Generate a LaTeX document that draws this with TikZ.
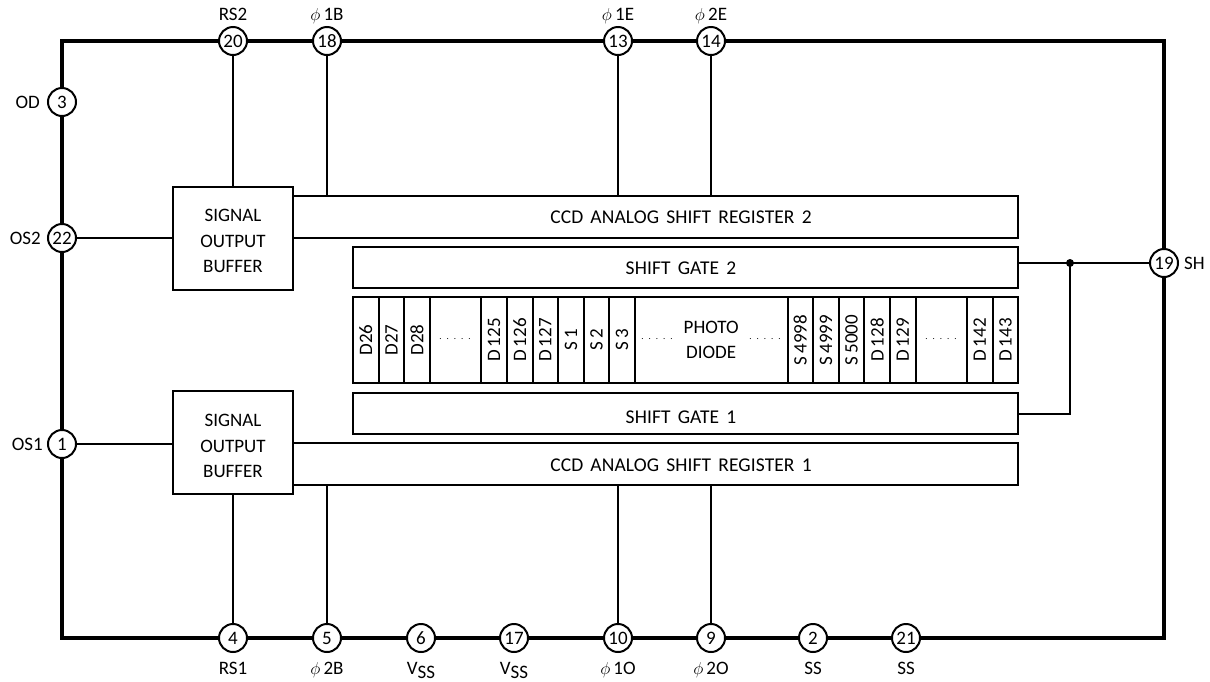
\documentclass[tikz,border=0pt]{standalone}
\usepackage{fontspec}
\setmainfont{Carlito}
\newfontfamily\widefont{Carlito}[WordSpace=1.6, LetterSpace=0.5]
\usepackage{tikz}
\usetikzlibrary{positioning}

\newcommand{\rundots}{.\hspace{5pt}.\hspace{5pt}.\hspace{5pt}.\hspace{5pt}.}

\begin{document}
\begin{tikzpicture}[
    x=1pt, y=-1pt,
    font=\fontsize{19}{25.5}\selectfont,
    wire/.style={line width=2pt},
    box/.style={
      draw,
      line width=2pt,
      align=center,
      inner sep=0pt,
      outer sep=0pt,
      fill=white
    },
    frame/.style={
      draw,
      line width=4pt,
      minimum width=1102pt,
      minimum height=597pt,
      inner sep=0pt
    },
    buffer/.style={box, minimum width=120pt, minimum height=103pt},
    register/.style={box, minimum width=725pt, minimum height=42pt},
    gate/.style={box, minimum width=665pt, minimum height=41pt},
    cell/.style={box, minimum width=25.6pt, minimum height=86pt},
    gap/.style={box, minimum width=51.5pt, minimum height=86pt},
    pin/.style={
      circle,
      draw,
      line width=2pt,
      fill=white,
      minimum size=28pt,
      inner sep=0pt
    },
    tag/.style={inner sep=0pt, text height=12pt, text depth=0pt},
    caption/.style={font=\widefont\fontsize{19.5}{25.5}\selectfont},
    dots/.style={inner sep=0pt, font=\fontsize{9}{9}\selectfont}
  ]
    \useasboundingbox (0,0) rectangle (1210,681);

    % Package outline
    \node[frame] (package) at (613,339.5) {};

    % Output buffers and registers
    \node[register] (reg2) at (655.5,217) {};
    \node[register] (reg1) at (655.5,463.5) {};
    \node[buffer] (buf2) at (233,238.5) {};
    \node[buffer] (buf1) at (233,442.5) {};
    \node[align=center, inner sep=0pt] (buf2text) at (233,241) {SIGNAL\\OUTPUT\\BUFFER};
    \node[align=center, inner sep=0pt] (buf1text) at (233,446) {SIGNAL\\OUTPUT\\BUFFER};
    \node[caption] (reg2text) at (681,217) {CCD ANALOG SHIFT REGISTER 2};
    \node[caption] (reg1text) at (681,465) {CCD ANALOG SHIFT REGISTER 1};

    % Shift gates
    \node[gate] (gate2) at (685.5,267.5) {};
    \node[gate] (gate1) at (685.5,413.5) {};
    \node[caption] (gate2text) at (681,268) {SHIFT GATE 2};
    \node[caption] (gate1text) at (681,417) {SHIFT GATE 1};

    % Photodiode row
    \node[cell] (d26) at (365.8,340) {\rotatebox{90}{D26}};
    \node[cell, right=0pt of d26] (d27) {\rotatebox{90}{D27}};
    \node[cell, right=0pt of d27] (d28) {\rotatebox{90}{D28}};
    \node[gap, right=0pt of d28] (gapa) {};
    \node[cell, right=0pt of gapa] (d125) {\rotatebox{90}{D\,125}};
    \node[cell, right=0pt of d125] (d126) {\rotatebox{90}{D\,126}};
    \node[cell, right=0pt of d126] (d127) {\rotatebox{90}{D\,127}};
    \node[cell, right=0pt of d127] (s1) {\rotatebox{90}{S\,1}};
    \node[cell, right=0pt of s1] (s2) {\rotatebox{90}{S\,2}};
    \node[cell, right=0pt of s2] (s3) {\rotatebox{90}{S\,3}};
    \node[box, minimum width=152.6pt, minimum height=86pt, right=0pt of s3] (photo) {PHOTO\\DIODE};
    \node[cell, right=0pt of photo] (s4998) {\rotatebox{90}{S\,4998}};
    \node[cell, right=0pt of s4998] (s4999) {\rotatebox{90}{S\,4999}};
    \node[cell, right=0pt of s4999] (s5000) {\rotatebox{90}{S\,5000}};
    \node[cell, right=0pt of s5000] (d128) {\rotatebox{90}{D\,128}};
    \node[cell, right=0pt of d128] (d129) {\rotatebox{90}{D\,129}};
    \node[gap, right=0pt of d129] (gapb) {};
    \node[cell, right=0pt of gapb] (d142) {\rotatebox{90}{D\,142}};
    \node[cell, right=0pt of d142] (d143) {\rotatebox{90}{D\,143}};

    % Dotted runs
    \node[dots] (dotsa) at (455,339) {\rundots};
    \node[dots] (dotsb) at (657,339) {\rundots};
    \node[dots] (dotsc) at (765,339) {\rundots};
    \node[dots] (dotsd) at (941,339) {\rundots};

    % Pins
    \node[pin] (pin20) at (233,41) {20};
    \node[pin] (pin18) at (327,41) {18};
    \node[pin] (pin13) at (618,41) {13};
    \node[pin] (pin14) at (711,41) {14};
    \node[pin] (pin3) at (62,102) {3};
    \node[pin] (pin22) at (62,238) {22};
    \node[pin] (pin1) at (62,444) {1};
    \node[pin] (pin19) at (1164,263) {19};
    \node[pin] (pin4) at (233,638) {4};
    \node[pin] (pin5) at (327,638) {5};
    \node[pin] (pin6) at (421,638) {6};
    \node[pin] (pin17) at (514,638) {17};
    \node[pin] (pin10) at (618,638) {10};
    \node[pin] (pin9) at (711,638) {9};
    \node[pin] (pin2) at (813,638) {2};
    \node[pin] (pin21) at (906,638) {21};

    % Pin names
    \node[tag, above=5pt of pin20] (rs2) {RS2};
    \node[tag, above=5pt of pin18] (phi1b) {$\phi$\,1B};
    \node[tag, above=5pt of pin13] (phi1e) {$\phi$\,1E};
    \node[tag, above=5pt of pin14] (phi2e) {$\phi$\,2E};
    \node[tag, left=7pt of pin3] (od) {OD};
    \node[tag, left=6pt of pin22] (os2) {OS2};
    \node[tag, left=4pt of pin1] (os1) {OS1};
    \node[tag, right=5pt of pin19] (sh) {SH};
    \node[tag, below=9pt of pin4] (rs1) {RS1};
    \node[tag, below=9pt of pin5] (phi2b) {$\phi$\,2B};
    \node[tag, below=9pt of pin6] (vss6) {V\raisebox{-4pt}{SS}};
    \node[tag, below=9pt of pin17] (vss17) {V\raisebox{-4pt}{SS}};
    \node[tag, below=9pt of pin10] (phi1o) {$\phi$\,1O};
    \node[tag, below=9pt of pin9] (phi2o) {$\phi$\,2O};
    \node[tag, below=9pt of pin2] (ss2) {SS};
    \node[tag, below=9pt of pin21] (ss21) {SS};

    % Wires
    \draw[wire] (pin20) -- (buf2);
    \draw[wire] (pin18) -- (pin18 |- reg2.north);
    \draw[wire] (pin13) -- (pin13 |- reg2.north);
    \draw[wire] (pin14) -- (pin14 |- reg2.north);
    \draw[wire] (pin22) -- (pin22 -| buf2.west);
    \draw[wire] (pin1) -- (pin1 -| buf1.west);
    \draw[wire] (pin4) -- (buf1);
    \draw[wire] (pin5) -- (pin5 |- reg1.south);
    \draw[wire] (pin10) -- (pin10 |- reg1.south);
    \draw[wire] (pin9) -- (pin9 |- reg1.south);

    \coordinate (sgjoin) at (1070,263);
    \draw[wire] (pin19) -- (pin19 -| gate2.east);
    \draw[wire] (gate1.east) -| (sgjoin);
    \fill (sgjoin) circle (4pt);
  \end{tikzpicture}
\end{document}
